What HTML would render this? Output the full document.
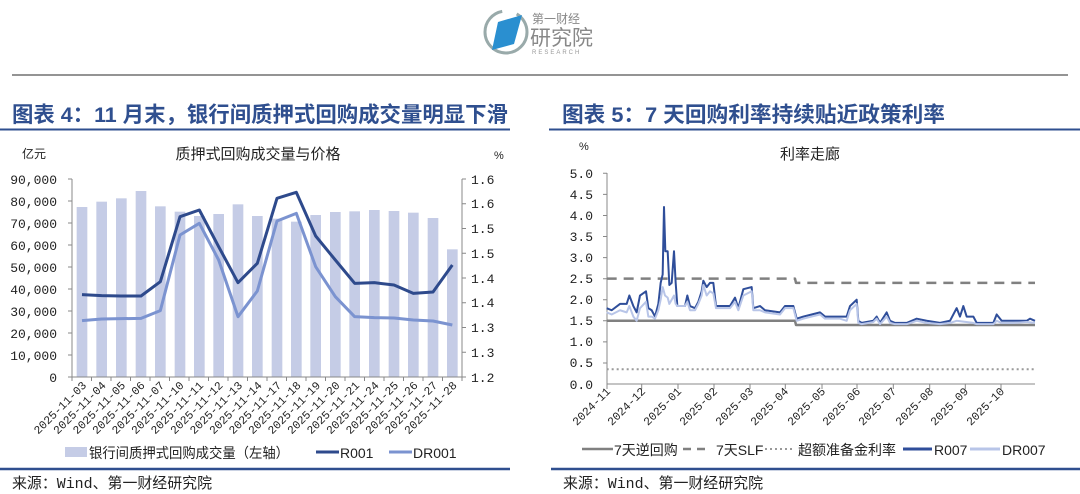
<!DOCTYPE html>
<html><head><meta charset="utf-8"><style>
body{margin:0;background:#fff;}
svg{display:block;font-family:"Liberation Sans","Noto Sans CJK SC",sans-serif;}
.t{font-family:"Liberation Mono","Noto Sans CJK SC",monospace;font-size:13px;fill:#222;}
.x{font-family:"Liberation Mono","Noto Sans CJK SC",monospace;font-size:11.5px;fill:#222;}
.cj{font-family:"Liberation Sans","Noto Sans CJK SC",sans-serif;}
.fn{font-family:"Liberation Mono","Noto Sans CJK SC",monospace;font-size:15px;fill:#222;}
</style></head><body>
<svg width="1080" height="494" viewBox="0 0 1080 494" xmlns="http://www.w3.org/2000/svg">
<rect width="1080" height="494" fill="#fff"/>
<!-- logo -->
<circle cx="506" cy="32" r="21" fill="none" stroke="#9aa" stroke-width="3" stroke-dasharray="95 15"/>
<polygon points="498,22 522,15 514,44 492,50" fill="#2a8fd0"/>
<text x="532" y="23" class="cj" font-size="12" fill="#888">第一财经</text>
<text x="530" y="45" class="cj" font-size="21" fill="#888">研究院</text>
<text x="532" y="54" font-size="6" fill="#999" letter-spacing="2">RESEARCH</text>
<line x1="12" y1="75" x2="1068" y2="75" stroke="#555" stroke-width="1.2"/>
<!-- titles -->
<text x="12" y="122" class="cj" font-size="21.5" font-weight="bold" fill="#2f4f8f" textLength="496" lengthAdjust="spacingAndGlyphs">图表 4：11 月末，银行间质押式回购成交量明显下滑</text>
<line x1="0" y1="129.5" x2="510" y2="129.5" stroke="#2f4f8f" stroke-width="2"/>
<text x="562" y="122" class="cj" font-size="21.5" font-weight="bold" fill="#2f4f8f" textLength="383" lengthAdjust="spacingAndGlyphs">图表 5：7 天回购利率持续贴近政策利率</text>
<line x1="549" y1="129.5" x2="1080" y2="129.5" stroke="#2f4f8f" stroke-width="2"/>

<!-- LEFT CHART -->
<text x="22" y="158" class="cj" font-size="12" fill="#222">亿元</text>
<text x="258" y="159" class="cj" font-size="15" fill="#222" text-anchor="middle">质押式回购成交量与价格</text>
<text x="494" y="159" class="cj" font-size="11" fill="#222">%</text>
<g transform="translate(0 160) scale(0.333333)" fill="#c5cce6">
<rect x="230" y="141" width="32" height="509"/><rect x="289" y="125" width="32" height="525"/>
<rect x="348" y="115" width="32" height="535"/><rect x="407" y="93" width="32" height="557"/>
<rect x="465" y="139" width="32" height="511"/><rect x="524" y="155" width="32" height="495"/>
<rect x="582" y="168" width="32" height="482"/><rect x="640" y="162" width="32" height="488"/>
<rect x="698" y="133" width="32" height="517"/><rect x="756" y="168" width="32" height="482"/>
<rect x="815" y="176" width="32" height="474"/><rect x="873" y="185" width="32" height="465"/>
<rect x="931" y="165" width="32" height="485"/><rect x="990" y="156" width="32" height="494"/>
<rect x="1048" y="154" width="32" height="496"/><rect x="1107" y="150" width="32" height="500"/>
<rect x="1166" y="153" width="32" height="497"/><rect x="1224" y="158" width="32" height="492"/>
<rect x="1283" y="174" width="32" height="476"/><rect x="1341" y="268" width="32" height="382"/>
<polyline fill="none" stroke="#7b93d0" stroke-width="3" vector-effect="non-scaling-stroke" stroke-linejoin="round" points="246,482 305,477 364,476 423,475 481,452 540,225 598,190 656,300 714,470 772,393 831,183 889,160 947,320 1006,410 1064,470 1123,473 1182,474 1240,480 1299,483 1357,495"/>
<polyline fill="none" stroke="#2e4a8c" stroke-width="3" vector-effect="non-scaling-stroke" stroke-linejoin="round" points="246,404 305,407 364,408 423,408 481,365 540,170 598,150 656,260 714,368 772,310 831,115 889,97 947,228 1006,300 1064,370 1123,368 1182,375 1240,400 1299,396 1357,315"/>
</g>
<g stroke="#888" stroke-width="1" fill="none">
<line x1="72" y1="179" x2="72" y2="377"/><line x1="72" y1="377" x2="462" y2="377"/>
<line x1="462" y1="179" x2="462" y2="377"/>
<path d="M68 179H72M68 201H72M68 223H72M68 245H72M68 267H72M68 289H72M68 311H72M68 333H72M68 355H72M68 377H72"/>
<path d="M462 179H466M462 203.75H466M462 228.5H466M462 253.25H466M462 278H466M462 302.75H466M462 327.5H466M462 352.25H466M462 377H466"/>
<path d="M72 377V381M91.5 377V381M111 377V381M130.5 377V381M150 377V381M169.5 377V381M189 377V381M208.5 377V381M228 377V381M247.5 377V381M267 377V381M286.5 377V381M306 377V381M325.5 377V381M345 377V381M364.5 377V381M384 377V381M403.5 377V381M423 377V381M442.5 377V381M462 377V381"/>
</g>
<g class="t" text-anchor="end">
<text x="57" y="184">90,000</text><text x="57" y="206">80,000</text><text x="57" y="228">70,000</text>
<text x="57" y="250">60,000</text><text x="57" y="272">50,000</text><text x="57" y="294">40,000</text>
<text x="57" y="316">30,000</text><text x="57" y="338">20,000</text><text x="57" y="360">10,000</text>
<text x="57" y="382">0</text></g>
<g class="t">
<text x="471" y="184">1.6</text><text x="471" y="208">1.6</text><text x="471" y="233">1.5</text>
<text x="471" y="258">1.5</text><text x="471" y="283">1.4</text><text x="471" y="307">1.4</text>
<text x="471" y="332">1.3</text><text x="471" y="357">1.3</text><text x="471" y="382">1.2</text></g>
<g class="x" text-anchor="end">
<text transform="translate(87 386) rotate(-45)">2025-11-03</text>
<text transform="translate(106.5 386) rotate(-45)">2025-11-04</text>
<text transform="translate(126 386) rotate(-45)">2025-11-05</text>
<text transform="translate(145.5 386) rotate(-45)">2025-11-06</text>
<text transform="translate(165 386) rotate(-45)">2025-11-07</text>
<text transform="translate(184.5 386) rotate(-45)">2025-11-10</text>
<text transform="translate(204 386) rotate(-45)">2025-11-11</text>
<text transform="translate(223.5 386) rotate(-45)">2025-11-12</text>
<text transform="translate(243 386) rotate(-45)">2025-11-13</text>
<text transform="translate(262.5 386) rotate(-45)">2025-11-14</text>
<text transform="translate(282 386) rotate(-45)">2025-11-17</text>
<text transform="translate(301.5 386) rotate(-45)">2025-11-18</text>
<text transform="translate(321 386) rotate(-45)">2025-11-19</text>
<text transform="translate(340.5 386) rotate(-45)">2025-11-20</text>
<text transform="translate(360 386) rotate(-45)">2025-11-21</text>
<text transform="translate(379.5 386) rotate(-45)">2025-11-24</text>
<text transform="translate(399 386) rotate(-45)">2025-11-25</text>
<text transform="translate(418.5 386) rotate(-45)">2025-11-26</text>
<text transform="translate(438 386) rotate(-45)">2025-11-27</text>
<text transform="translate(457.5 386) rotate(-45)">2025-11-28</text>
</g>
<rect x="65" y="447" width="22" height="10" fill="#c5cce6"/>
<text x="89" y="458" class="cj" font-size="14" fill="#222" textLength="200" lengthAdjust="spacingAndGlyphs">银行间质押式回购成交量（左轴）</text>
<line x1="316" y1="452" x2="339" y2="452" stroke="#2e4a8c" stroke-width="3"/>
<text x="340" y="458" font-size="14" fill="#222">R001</text>
<line x1="389" y1="452" x2="412" y2="452" stroke="#7b93d0" stroke-width="3"/>
<text x="413" y="458" font-size="14" fill="#222">DR001</text>
<line x1="0" y1="469" x2="510" y2="469" stroke="#2f4f8f" stroke-width="2.5"/>
<text x="12" y="488" class="fn" textLength="200" lengthAdjust="spacingAndGlyphs">来源：Wind、第一财经研究院</text>

<!-- RIGHT CHART -->
<text x="579" y="150" class="cj" font-size="11" fill="#222">%</text>
<text x="810" y="159" class="cj" font-size="15" fill="#222" text-anchor="middle">利率走廊</text>
<g stroke="#888" stroke-width="1" fill="none">
<line x1="607" y1="173" x2="607" y2="384"/><line x1="607" y1="384" x2="1035" y2="384"/>
<path d="M603 173.3H607M603 194.4H607M603 215.5H607M603 236.5H607M603 257.6H607M603 278.7H607M603 299.8H607M603 320.8H607M603 341.9H607M603 363H607"/>
<path d="M607 384V389M641.7 384V389M678 384V389M714 384V389M750 384V389M785.3 384V389M822 384V389M857 384V389M893.3 384V389M929.7 384V389M965.3 384V389M1001 384V389"/>
</g>
<g class="t" text-anchor="end">
<text x="593" y="178">5.0</text><text x="593" y="199">4.5</text><text x="593" y="220">4.0</text>
<text x="593" y="241">3.5</text><text x="593" y="262">3.0</text><text x="593" y="283">2.5</text>
<text x="593" y="304">2.0</text><text x="593" y="325">1.5</text><text x="593" y="346">1.0</text>
<text x="593" y="367">0.5</text><text x="593" y="389">0.0</text></g>
<g class="x" text-anchor="end">
<text transform="translate(611 392) rotate(-45)">2024-11</text>
<text transform="translate(646 392) rotate(-45)">2024-12</text>
<text transform="translate(682 392) rotate(-45)">2025-01</text>
<text transform="translate(718 392) rotate(-45)">2025-02</text>
<text transform="translate(754 392) rotate(-45)">2025-03</text>
<text transform="translate(789 392) rotate(-45)">2025-04</text>
<text transform="translate(826 392) rotate(-45)">2025-05</text>
<text transform="translate(861 392) rotate(-45)">2025-06</text>
<text transform="translate(897 392) rotate(-45)">2025-07</text>
<text transform="translate(934 392) rotate(-45)">2025-08</text>
<text transform="translate(969 392) rotate(-45)">2025-09</text>
<text transform="translate(1005 392) rotate(-45)">2025-10</text>
</g>
<g transform="translate(540 384) scale(0.333333 -42.14)" fill="none" stroke-linejoin="round">
<polyline stroke="#808080" stroke-width="2.5" vector-effect="non-scaling-stroke" points="200,1.5 765,1.5 768,1.4 1485,1.4"/>
<polyline stroke="#808080" stroke-width="2.5" stroke-dasharray="10 7" vector-effect="non-scaling-stroke" points="200,2.5 765,2.5 768,2.4 1485,2.4"/>
<polyline stroke="#999" stroke-width="2" stroke-dasharray="2 3" vector-effect="non-scaling-stroke" points="200,0.35 1485,0.35"/>
<polyline stroke="#2f4e9a" stroke-width="2" vector-effect="non-scaling-stroke" points="200,1.8 215,1.75 240,1.9 260,1.9 268,2.1 280,1.85 290,1.7 300,2.1 318,2.2 325,1.8 335,1.75 345,1.6 355,1.9 362,2.4 368,2.6 372,4.2 376,3.15 383,3.15 388,2.35 395,2.4 402,3.15 407,2.4 412,1.85 435,1.85 442,2.1 450,1.85 465,1.8 475,1.95 485,2.2 490,2.45 500,2.3 510,2.4 520,2.4 528,1.85 570,1.85 585,2.05 595,1.8 610,2.25 635,2.3 640,1.8 660,1.85 675,1.75 720,1.7 735,1.85 760,1.85 770,1.55 790,1.6 815,1.65 840,1.7 855,1.6 900,1.6 920,1.6 930,1.85 950,2.0 955,1.5 965,1.45 1000,1.5 1010,1.6 1020,1.45 1040,1.7 1050,1.5 1065,1.45 1100,1.45 1130,1.55 1160,1.5 1200,1.45 1230,1.5 1250,1.8 1260,1.6 1270,1.85 1280,1.6 1300,1.6 1310,1.45 1360,1.45 1370,1.65 1385,1.5 1420,1.5 1460,1.5 1470,1.55 1485,1.5"/>
<polyline stroke="#b8c5e8" stroke-width="2" vector-effect="non-scaling-stroke" points="200,1.7 215,1.65 240,1.75 260,1.7 268,1.85 280,1.6 290,1.5 300,1.8 318,1.95 325,1.6 335,1.6 345,1.55 355,1.75 362,2.0 368,2.3 375,2.1 383,2.05 388,1.9 395,2.0 402,2.1 407,1.9 412,1.85 435,1.85 442,1.95 450,1.75 465,1.75 475,1.9 485,2.1 490,2.35 500,2.1 510,2.2 520,2.15 528,1.8 570,1.8 585,1.95 595,1.75 610,2.1 635,2.2 640,1.75 660,1.75 675,1.7 720,1.65 735,1.8 760,1.8 770,1.5 790,1.55 815,1.6 840,1.65 855,1.55 900,1.55 920,1.5 930,1.75 950,1.9 955,1.45 965,1.42 1000,1.47 1010,1.55 1020,1.42 1040,1.6 1050,1.45 1065,1.42 1100,1.42 1130,1.5 1160,1.45 1200,1.42 1230,1.45 1250,1.5 1270,1.48 1300,1.45 1310,1.42 1360,1.42 1370,1.5 1385,1.45 1420,1.45 1460,1.47 1485,1.45"/>
</g>
<line x1="582" y1="449" x2="613" y2="449" stroke="#808080" stroke-width="2.5"/>
<text x="614" y="455" class="cj" font-size="14" fill="#222">7天逆回购</text>
<line x1="683" y1="449" x2="709" y2="449" stroke="#808080" stroke-width="2.5" stroke-dasharray="8 6"/>
<text x="716" y="455" class="cj" font-size="14" fill="#222">7天SLF</text>
<line x1="765" y1="449" x2="792" y2="449" stroke="#999" stroke-width="2" stroke-dasharray="2 3"/>
<text x="798" y="455" class="cj" font-size="14" fill="#222">超额准备金利率</text>
<line x1="903" y1="449" x2="932" y2="449" stroke="#2f4e9a" stroke-width="3"/>
<text x="934" y="455" font-size="14" fill="#222">R007</text>
<line x1="970" y1="449" x2="1000" y2="449" stroke="#b8c5e8" stroke-width="3"/>
<text x="1002" y="455" font-size="14" fill="#222">DR007</text>
<line x1="551" y1="469" x2="1080" y2="469" stroke="#2f4f8f" stroke-width="2.5"/>
<text x="563" y="488" class="fn" textLength="200" lengthAdjust="spacingAndGlyphs">来源：Wind、第一财经研究院</text>
</svg>
</body></html>
